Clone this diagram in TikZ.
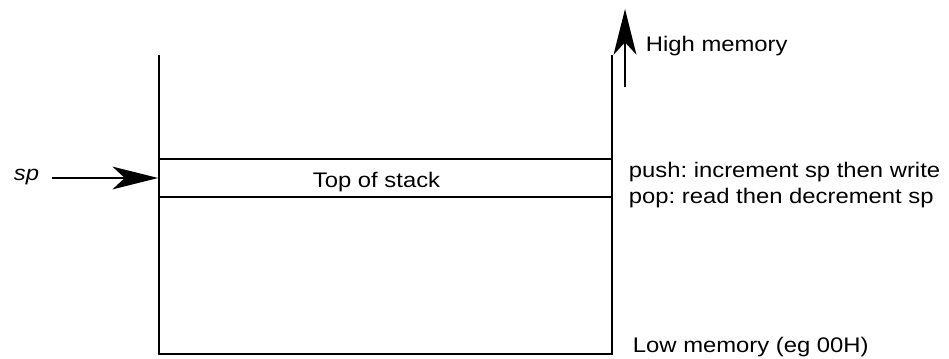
\documentclass[tikz,border=0pt]{standalone}
\usepackage{fontspec}
\setmainfont[FakeStretch=1.13]{Liberation Sans}
\usetikzlibrary{positioning, arrows.meta}

\begin{document}
\begin{tikzpicture}[x=0.02cm, y=-0.02cm, line width=1.1pt, font=\fontsize{12}{14}\selectfont\frenchspacing]
                \useasboundingbox (0, 0) rectangle (949, 358);
                \coordinate (lefttop) at (159, 55);
                \coordinate (leftbot) at (159, 354);
                \coordinate (righttop) at (612, 55);
                \coordinate (rightbot) at (612, 354);
                \node [shape = rectangle, draw = black, minimum width = 9.06cm, minimum height = 0.76cm, inner sep = 0pt] (tos) at (385.5, 178) {};
                \node [anchor = base west, inner sep = 0pt] (toslabel) at (312, 187) {Top of stack};
                \node [anchor = base west, inner sep = 0pt] (sp) at (13, 180) {\itshape sp};
                \coordinate (hmbot) at (625, 87);
                \coordinate (hmtop) at (625, 9);
                \node [anchor = base west, inner sep = 0pt] (high) at (645, 51.5) {High memory};
                \node [anchor = base west, inner sep = 0pt] (push) at (628, 177) {push: increment sp then write};
                \node [anchor = base west, inner sep = 0pt] (pop) at (628, 203) {pop: read then decrement sp};
                \node [anchor = base west, inner sep = 0pt] (low) at (632, 352) {Low memory (eg 00H)};

                \draw (lefttop) -- (leftbot) -- (rightbot) -- (righttop);
                \draw [-{Stealth[length=26pt, width=13pt, inset=7pt]}] ([xshift=7pt] sp.east |- tos.west) -- (tos.west);
                \draw [-{Stealth[length=26pt, width=13pt, inset=7pt]}] (hmbot) -- (hmtop);
            \end{tikzpicture}
\end{document}
